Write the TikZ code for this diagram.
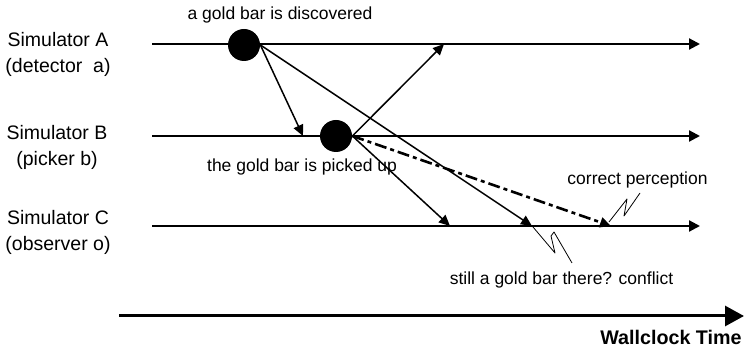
\documentclass[tikz,border=0pt]{standalone}
\usepackage{fontspec}
\setmainfont{Liberation Sans}
\usetikzlibrary{arrows.meta}

\begin{document}
\begin{tikzpicture}[
  x=0.5pt,y=-0.5pt,
  lane/.style={align=center,font=\fontsize{9.75}{13.2}\selectfont,anchor=base,inner sep=0pt},
  note/.style={font=\fontsize{8.75}{10}\selectfont,anchor=base,inner sep=0pt},
  timeline/.style={line width=1.1pt,-{Triangle[length=5.5pt,width=5.5pt]}},
  clock/.style={line width=1.5pt,-{Triangle[length=9.5pt,width=10pt]}},
  msg/.style={line width=0.75pt,-{Triangle[length=5.5pt,width=5pt]}},
  dashdot/.style={line width=1.3pt,dash pattern=on 6pt off 2pt on 2pt off 2pt},
  event/.style={circle,fill=black,minimum size=16pt,inner sep=0pt},
  squiggle/.style={line width=0.4pt,line join=round}
]
\useasboundingbox (0,0) rectangle (744,351);

\node[lane] (simA) at (58,73) {Simulator A\\(detector\ \ a)};
\node[lane] (simB) at (57,166) {Simulator B\\(picker b)};
\node[lane] (simC) at (58,251) {Simulator C\\(observer o)};

\coordinate (a0) at (152,44);  \coordinate (a1) at (700,44);
\coordinate (b0) at (152,136); \coordinate (b1) at (700,136);
\coordinate (c0) at (152,226); \coordinate (c1) at (700,226);
\coordinate (w0) at (119,316); \coordinate (w1) at (744,316);
\draw[timeline] (a0) -- (a1);
\draw[timeline] (b0) -- (b1);
\draw[timeline] (c0) -- (c1);
\draw[clock] (w0) -- (w1);

\node[event] (disc) at (244,45) {};
\node[event] (pick) at (336,136) {};
\node[note] (discovered) at (280,19.5) {a gold bar is discovered};
\node[note] (picked) at (302,172) {the gold bar is picked up};

\coordinate (toB) at (303,136);
\coordinate (toA) at (444,44);
\coordinate (seeA) at (532,226);
\coordinate (seeB) at (450,226);
\coordinate (seeBx) at (611,226);
\draw[msg] (disc.east) -- (toB);
\draw[msg] (disc.east) -- (seeA);
\draw[msg] (pick.east) -- (toA);
\draw[msg] (pick.east) -- (seeB);
\draw[msg,dashdot] (pick.east) -- (seeBx);

\draw[squiggle] (533,227) -- (555,253) -- (551,236) -- (554,232) -- (572,263);
\draw[squiggle] (609,222) -- (627,199) -- (624,216) -- (640,193);
\node[note] (correct) at (637.5,185) {correct perception};
\node[note] (conflict) at (561.5,285) {still a gold bar there? conflict};
\node[font=\fontsize{9.85}{12}\selectfont\bfseries,anchor=base east,inner sep=0pt] (wallclock) at (742,345) {Wallclock Time};
\end{tikzpicture}
\end{document}
